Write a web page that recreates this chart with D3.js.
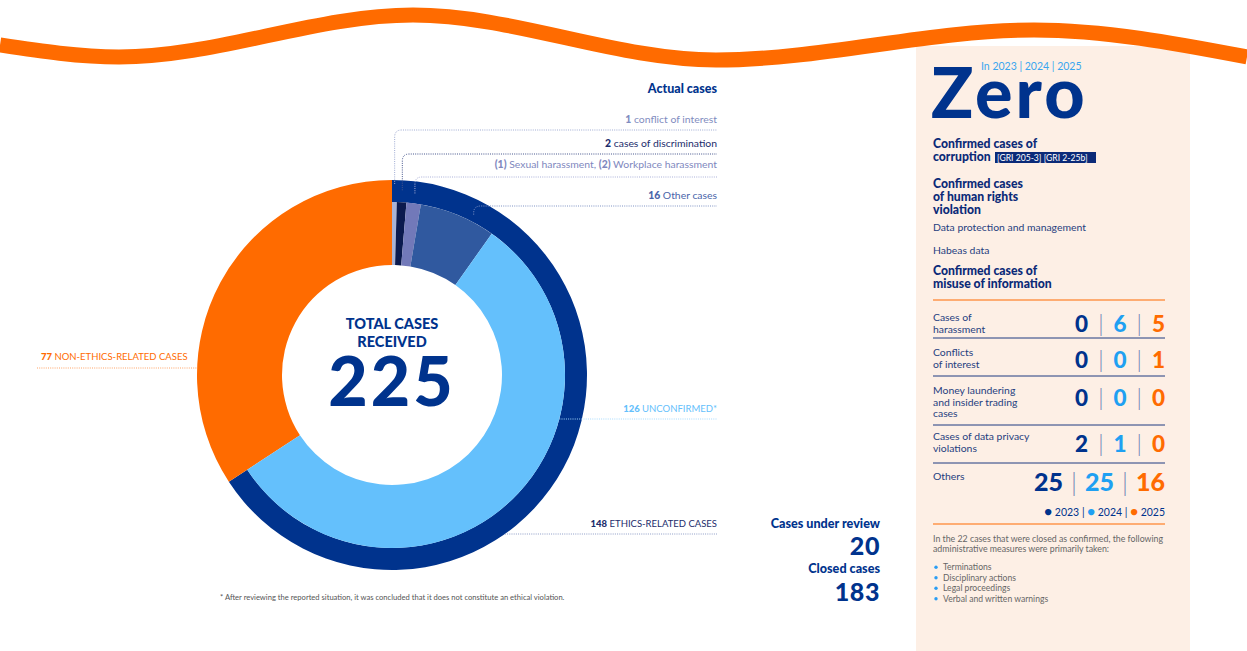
<!DOCTYPE html>
<html>
<head>
<meta charset="utf-8">
<script src="https://cdn.jsdelivr.net/npm/d3@7"></script>
<style>
  html, body { margin: 0; padding: 0; background: #fff; }
  svg { display: block; font-family: Lato, "Open Sans", sans-serif; }
</style>
</head>
<body>
<div id="chart"></div>
<script>
// ---- data ----
const totalCases = 225;
const groupNames = ['Ethics-related cases', 'Non-ethics-related cases'];
const groupValues = [148, 77];

const ethicsNames = ['conflict of interest', 'cases of discrimination', 'harassment', 'Other cases', 'Unconfirmed'];
const ethicsValues = [1, 2, 3, 16, 126];

const reviewLabels = ['Cases under review', 'Closed cases'];
const reviewValues = [20, 183];

const tableRows = [
  ['Cases of', 'harassment'],
  ['Conflicts', 'of interest'],
  ['Money laundering', 'and insider trading', 'cases'],
  ['Cases of data privacy', 'violations'],
  ['Others']
];
const years = ['2023', '2024', '2025'];
const values2023 = [0, 0, 0, 2, 25];
const values2024 = [6, 0, 0, 1, 25];
const values2025 = [5, 1, 0, 0, 16];

const measures = ['Terminations', 'Disciplinary actions', 'Legal proceedings', 'Verbal and written warnings'];

// ---- styles ----
const NAVY = '#00338d';
const ORANGE = '#ff6b00';
const LIGHT = '#64c0fc';
const ethicsColors = ['#a9b3d6', '#0b1a4e', '#7279b9', '#30599f', LIGHT];
const yearColors = [NAVY, '#1fa0f2', ORANGE];

const W = 1247, H = 651;
const svg = d3.select('#chart').append('svg').attr('width', W).attr('height', H);

// right panel background
svg.append('rect').attr('x', 916).attr('y', 46).attr('width', 274).attr('height', H - 46).attr('fill', '#fdefe5');

// decorative wave
const wave = [[0, 45], [119, 57], [413, 15], [716, 60], [1034, 30], [1247, 57]];
svg.append('path')
  .attr('d', d3.line().curve(d3.curveMonotoneX)(wave))
  .attr('fill', 'none').attr('stroke', ORANGE).attr('stroke-width', 15);

// ---- donut ----
const cx = 392, cy = 375;
const rIn = 110, rMid = 173, rOut = 195;
const g = svg.append('g').attr('transform', `translate(${cx},${cy})`);

const groupArcs = d3.pie().sort(null)(groupValues);
const ethicsEnd = groupArcs[0].endAngle;
const ethicsArcs = d3.pie().sort(null).startAngle(0).endAngle(ethicsEnd)(ethicsValues);

// outer ring (ethics) and full orange slice (non ethics)
g.append('path').attr('d', d3.arc().innerRadius(rMid).outerRadius(rOut)(groupArcs[0])).attr('fill', NAVY);
g.append('path').attr('d', d3.arc().innerRadius(rIn).outerRadius(rOut)(groupArcs[1])).attr('fill', ORANGE);

g.selectAll('path.eth').data(ethicsArcs).enter().append('path')
  .attr('class', 'eth')
  .attr('d', d3.arc().innerRadius(rIn).outerRadius(rMid))
  .attr('fill', (d, i) => ethicsColors[i]);

// center labels (one text block)
{
  const t = g.append('text').attr('text-anchor', 'middle').attr('font-weight', 900).attr('fill', NAVY);
  t.append('tspan').attr('x', 0).attr('y', -46).attr('font-size', 14.5).text('TOTAL CASES');
  t.append('tspan').attr('x', 0).attr('y', -28).attr('font-size', 14.5).text('RECEIVED');
  t.append('tspan').attr('x', 0).attr('y', 31).attr('font-size', 68).attr('letter-spacing', 3)
    .text(d3.sum(groupValues));
}

// ---- leader lines and labels ----
const labelX = 717;
const dots = { fill: 'none', 'stroke-width': 1, 'stroke-dasharray': '1 1.2' };
function dotted(d, color) {
  const p = svg.append('path').attr('d', d).attr('stroke', color);
  Object.entries(dots).forEach(([k, v]) => p.attr(k, v));
}
function elbow(angle, r, yLine, color) {
  const x = cx + r * Math.sin(angle), y = cy - r * Math.cos(angle), rr = 7;
  dotted(`M${x},${y}L${x},${yLine + rr}Q${x},${yLine} ${x + rr},${yLine}L${labelX},${yLine}`, color);
}
const mid = a => (a.startAngle + a.endAngle) / 2;

svg.append('text').attr('x', labelX).attr('y', 93).attr('text-anchor', 'end')
  .attr('font-size', 12.5).attr('font-weight', 900).attr('fill', NAVY).text('Actual cases');

const labelRows = [
  { y: 123, line: 130, color: '#7f8cc0', lineColor: '#9fabd2', r: rOut - 4, parts: [[ethicsValues[0], 1], [' ' + ethicsNames[0], 0]] },
  { y: 147, line: 154, color: '#1b2c6b', lineColor: '#44548c', r: rOut - 10, parts: [[ethicsValues[1], 1], [' ' + ethicsNames[1], 0]] },
  { y: 168, line: 177, color: '#8088be', lineColor: '#aab0d8', r: rOut - 12, parts: [['(1)', 1], [' Sexual harassment, ', 0], ['(2)', 1], [' Workplace harassment', 0]] },
  { y: 199, line: 206, color: '#4a65aa', lineColor: '#7f93c4', r: rOut - 15, parts: [[ethicsValues[3], 1], [' ' + ethicsNames[3], 0]] }
];
labelRows.forEach((row, i) => {
  elbow(mid(ethicsArcs[i]) + (i === 3 ? 0.08 : 0), row.r, row.line, row.lineColor);
  const t = svg.append('text').attr('x', labelX).attr('y', row.y).attr('text-anchor', 'end')
    .attr('font-size', 10.4).attr('fill', row.color).attr('xml:space', 'preserve');
  row.parts.forEach(([s, b]) => t.append('tspan').attr('font-weight', b ? 900 : 400).text(s));
});

// unconfirmed
{
  const yl = 419, x0 = cx + Math.sqrt(rMid * rMid - (yl - cy) * (yl - cy));
  dotted(`M${x0},${yl}L${labelX},${yl}`, '#a6d9fc');
  const t = svg.append('text').attr('x', labelX).attr('y', 412).attr('text-anchor', 'end')
    .attr('font-size', 9.5).attr('fill', LIGHT).attr('xml:space', 'preserve');
  t.append('tspan').attr('font-weight', 900).text(ethicsValues[4]);
  t.append('tspan').text(' UNCONFIRMED*');
}
// ethics related
{
  const yl = 534, x0 = cx + Math.sqrt(rOut * rOut - (yl - cy) * (yl - cy));
  dotted(`M${x0},${yl}L${labelX},${yl}`, '#8d9cc6');
  const t = svg.append('text').attr('x', labelX).attr('y', 527).attr('text-anchor', 'end')
    .attr('font-size', 9.5).attr('fill', '#1b2c6b').attr('xml:space', 'preserve');
  t.append('tspan').attr('font-weight', 900).text(groupValues[0]);
  t.append('tspan').text(' ETHICS-RELATED CASES');
}
// non ethics
{
  const yl = 368, x1 = cx - Math.sqrt(rOut * rOut - (yl - cy) * (yl - cy));
  dotted(`M37,${yl}L${x1},${yl}`, '#ffa366');
  const t = svg.append('text').attr('x', 41).attr('y', 360)
    .attr('font-size', 9.5).attr('fill', ORANGE).attr('xml:space', 'preserve');
  t.append('tspan').attr('font-weight', 900).text(groupValues[1]);
  t.append('tspan').text(' NON-ETHICS-RELATED CASES');
}

// footnote
svg.append('text').attr('x', 220).attr('y', 600).attr('font-size', 7.6).attr('fill', '#555')
  .text('* After reviewing the reported situation, it was concluded that it does not constitute an ethical violation.');

// cases under review / closed
[[528, 555], [573, 601]].forEach(([ly, vy], i) => {
  svg.append('text').attr('x', 880).attr('y', ly).attr('text-anchor', 'end')
    .attr('font-size', 12.6).attr('font-weight', 900).attr('fill', NAVY).text(reviewLabels[i]);
  svg.append('text').attr('x', 880).attr('y', vy).attr('text-anchor', 'end')
    .attr('font-size', 25).attr('font-weight', 900).attr('fill', NAVY).attr('letter-spacing', 0.6).text(reviewValues[i]);
});

// ---- right panel ----
const px = 933, pr = 1165;
{
  const t = svg.append('text');
  t.append('tspan').attr('x', 981).attr('y', 70).attr('font-size', 10.5).attr('fill', '#3aa6ef')
    .text('In ' + years.join(' | '));
  t.append('tspan').attr('x', 931).attr('y', 118).attr('font-size', 70).attr('font-weight', 900)
    .attr('fill', NAVY).attr('letter-spacing', 3).text('Zero');
}

function block(y0, lines, opts) {
  const t = svg.append('text').attr('font-size', opts.size).attr('font-weight', opts.weight || 400)
    .attr('fill', opts.color);
  lines.forEach((s, j) => t.append('tspan').attr('x', px).attr('y', y0 + j * opts.lh).text(s));
  return t;
}
const headStyle = { size: 12.2, weight: 900, color: '#0b2a78', lh: 12.8 };
block(148, ['Confirmed cases of', 'corruption'], headStyle);
svg.append('rect').attr('x', 995).attr('y', 152).attr('width', 101).attr('height', 11).attr('fill', '#0b2a78');
svg.append('text').attr('x', 997).attr('y', 160.8).attr('font-size', 8.6).attr('fill', '#fff')
  .text('[GRI 205-3] [GRI 2-25b]');
block(188, ['Confirmed cases', 'of human rights', 'violation'], headStyle);
svg.append('text').attr('x', px).attr('y', 231).attr('font-size', 10.4).attr('fill', '#26407f').text('Data protection and management');
svg.append('text').attr('x', px).attr('y', 254).attr('font-size', 10.4).attr('fill', '#26407f').text('Habeas data');
block(275, ['Confirmed cases of', 'misuse of information'], headStyle);

svg.append('line').attr('x1', px).attr('x2', pr).attr('y1', 300).attr('y2', 300).attr('stroke', ORANGE).attr('stroke-width', 1.2);

const rowLabelY = [321, 356, 394, 440, 480];
const rowValueY = [332, 368, 406, 452, 491];
const rowLineY = [338, 376, 425, 463];
const yearValues = [values2023, values2024, values2025];

tableRows.forEach((lines, i) => {
  block(rowLabelY[i], lines, { size: 10.4, color: '#26407f', lh: 11.5 });
  const big = i === tableRows.length - 1;
  const t = svg.append('text').attr('x', pr).attr('y', rowValueY[i]).attr('text-anchor', 'end')
    .attr('font-size', big ? 25 : 22.5).attr('font-weight', 900);
  yearValues.forEach((vals, k) => {
    if (k > 0) t.append('tspan').attr('dx', big ? 8 : 10).attr('font-weight', 300).attr('fill', '#6f80b4').text('|');
    t.append('tspan').attr('dx', k > 0 ? (big ? 8 : 10) : 0).attr('fill', yearColors[k]).text(vals[i]);
  });
  if (i < rowLineY.length) {
    svg.append('line').attr('x1', px).attr('x2', pr).attr('y1', rowLineY[i]).attr('y2', rowLineY[i])
      .attr('stroke', '#1f3a80').attr('stroke-width', 1);
  }
});

// legend
{
  const t = svg.append('text').attr('x', pr).attr('y', 516).attr('text-anchor', 'end')
    .attr('font-size', 10.5).attr('fill', NAVY).attr('xml:space', 'preserve');
  years.forEach((y, k) => {
    if (k > 0) t.append('tspan').text(' | ');
    t.append('tspan').attr('fill', yearColors[k]).attr('font-size', 13).text('●');
    t.append('tspan').text(' ' + y);
  });
}

svg.append('line').attr('x1', px).attr('x2', pr).attr('y1', 524).attr('y2', 524).attr('stroke', ORANGE).attr('stroke-width', 1.2);

block(542, ['In the 22 cases that were closed as confirmed, the following', 'administrative measures were primarily taken:'],
  { size: 8.8, color: '#666', lh: 9.8 });

measures.forEach((s, i) => {
  const y = 570 + i * 10.5;
  svg.append('circle').attr('cx', 936).attr('cy', y - 2.8).attr('r', 1.7).attr('fill', '#2a9df4');
  svg.append('text').attr('x', 943).attr('y', y).attr('font-size', 8.6).attr('fill', '#666').text(s);
});
</script>
</body>
</html>
